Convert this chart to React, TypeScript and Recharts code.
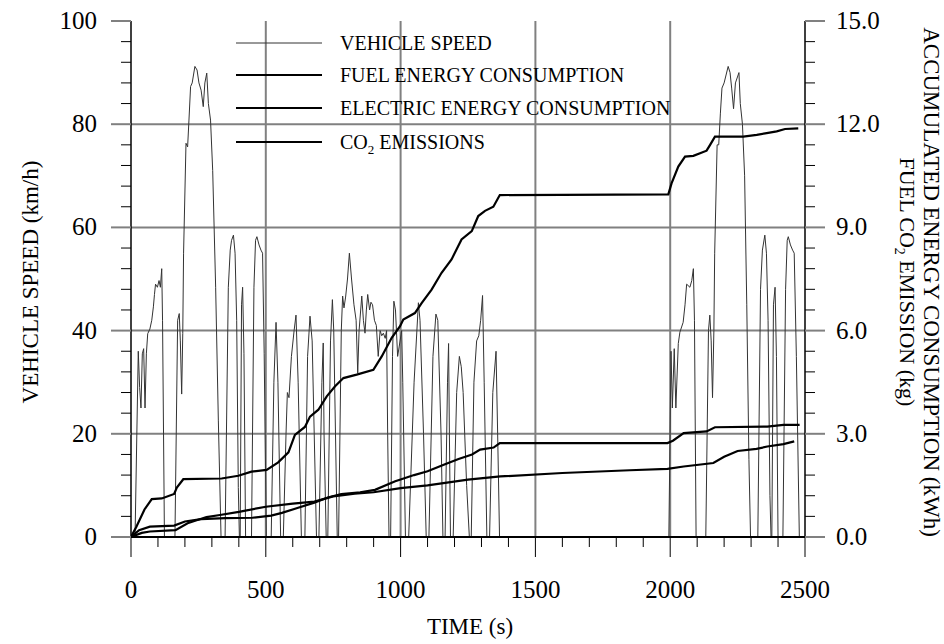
import { ComposedChart, Line, XAxis, YAxis, ReferenceLine } from "recharts";

const FONT = '"Liberation Serif", "DejaVu Serif", serif';

// axis ticks (minor + major)
const timeTicks = [
	0, 100, 200, 300, 400, 500, 600, 700, 800, 900, 1000, 1100, 1200, 1300,
	1400, 1500, 1600, 1700, 1800, 1900, 2000, 2100, 2200, 2300, 2400, 2500,
];
const speedTicks = [
	0, 4, 8, 12, 16, 20, 24, 28, 32, 36, 40, 44, 48, 52, 56, 60, 64, 68, 72,
	76, 80, 84, 88, 92, 96, 100,
];
const energyTicks = [
	0, 0.6, 1.2, 1.8, 2.4, 3, 3.6, 4.2, 4.8, 5.4, 6, 6.6, 7.2, 7.8, 8.4, 9,
	9.6, 10.2, 10.8, 11.4, 12, 12.6, 13.2, 13.8, 14.4, 15,
];
const gridSpeeds = [20, 40, 60, 80];
const gridTimes = [500, 1000, 1500, 2000];

// vehicle speed, km/h  [time s, speed]
const speedFirstLeg: [number, number][] = [
	[0, 0], [15, 0], [27, 36], [32, 29], [37, 25], [42, 35.5], [47, 36.5],
	[52, 25], [57, 35.5], [62, 39.4], [70, 40.3], [77, 42], [83, 44.6],
	[87, 47], [91, 49], [98, 48.4], [104, 49.7], [109, 48.4], [114, 52],
	[117, 42], [124, 0], [163, 0], [173, 42], [179, 43.3], [183, 38],
	[188, 27.7], [192, 39.4], [195, 55], [204, 76.3], [210, 75.6],
	[215, 80.8], [221, 87.3], [227, 88], [237, 91.2], [245, 90.5], [252, 88],
	[260, 86.6], [268, 83.4], [274, 88], [281, 89.9], [287, 84], [295, 80.8],
	[303, 71], [314, 48.4], [324, 22.5], [334, 0], [349, 0], [361, 48.4],
	[368, 55.6], [373, 57.5], [380, 58.5], [386, 55], [392, 42], [398, 9.6],
	[402, 0], [405, 0], [410, 45], [414, 48.4], [419, 35.5], [425, 0],
	[447, 0], [456, 48.4], [462, 57.5], [467, 58.2], [475, 56.6], [482, 55.6],
	[488, 55], [494, 35.5], [502, 0],
];
const speedMiddleLeg: [number, number][] = [
	[520, 0], [530, 30], [538, 41.6], [545, 30], [555, 0],
	[565, 0], [575, 20], [580, 28], [586, 27], [595, 35], [605, 40], [612, 43],
	[620, 30], [632, 0],
	[645, 0], [655, 35], [664, 42.8], [672, 38], [688, 0],
	[697, 0], [708, 30], [713, 37.6], [716, 20], [724, 0],
	[730, 0], [740, 38], [747, 46], [752, 40], [765, 0],
	[770, 0], [780, 40], [785, 46.7], [790, 44.4], [796, 46.5], [803, 50],
	[810, 55], [818, 50], [827, 45], [835, 42], [841, 31.8], [846, 40],
	[856, 46.7], [862, 42], [868, 39.5], [873, 44], [878, 47], [885, 44],
	[890, 45.5], [896, 45], [903, 42], [910, 41], [917, 35], [924, 40],
	[930, 39], [936, 39.5], [943, 38.5], [948, 40], [952, 20], [957, 0],
	[963, 0], [970, 35], [975, 45.7], [981, 44], [989, 35], [995, 37],
	[1004, 40], [1008, 30], [1018, 0],
	[1030, 0], [1050, 30], [1066, 45.4], [1072, 42], [1085, 20], [1095, 0],
	[1105, 0], [1120, 35], [1131, 43.2], [1138, 42], [1150, 20], [1157, 0],
	[1165, 0], [1174, 30], [1178, 37.5], [1181, 20], [1185, 0],
	[1195, 0], [1208, 28], [1218, 35], [1225, 33], [1232, 28], [1245, 10],
	[1255, 0],
	[1262, 0], [1272, 30], [1282, 38], [1290, 39], [1297, 42], [1304, 46.8],
	[1310, 30], [1320, 0],
	[1330, 0], [1342, 28], [1354, 36], [1360, 20], [1367, 0],
];
const speedLastLeg: [number, number][] = [
	[1995, 0], [2003, 36], [2008, 25], [2015, 36.5], [2021, 25], [2030, 37.5],
	[2036, 39.7], [2048, 41.6], [2055, 45], [2061, 49], [2073, 48.4],
	[2080, 49.7], [2086, 52], [2090, 42], [2096, 0], [2132, 0], [2142, 40],
	[2147, 43], [2152, 38], [2157, 27], [2162, 40], [2165, 55], [2174, 76],
	[2180, 76], [2186, 82], [2192, 87], [2200, 88], [2215, 91.2], [2222, 90],
	[2228, 87], [2235, 83], [2242, 88], [2255, 90], [2260, 84], [2268, 80],
	[2276, 70], [2284, 45], [2292, 15], [2298, 0],
	[2325, 0], [2335, 48], [2342, 55.6], [2351, 58.5], [2357, 55], [2363, 42],
	[2370, 8], [2374, 0],
	[2377, 0], [2383, 45], [2389, 48.4], [2394, 35], [2400, 0],
	[2418, 0], [2428, 48], [2434, 57.5], [2438, 58.2], [2446, 56.6],
	[2454, 55.6], [2460, 55], [2468, 35], [2479, 0],
];

// accumulated values, kWh / kg  [time s, value]
const fuelEnergy: [number, number][] = [
	[0, 0], [20, 0.3], [50, 0.8], [77, 1.1], [114, 1.12], [160, 1.25],
	[170, 1.44], [194, 1.68], [336, 1.7], [398, 1.78], [447, 1.9], [503, 1.95],
	[546, 2.17], [584, 2.46], [608, 2.97], [645, 3.2], [664, 3.5], [695, 3.7],
	[726, 4.09], [757, 4.38], [788, 4.62], [837, 4.72], [899, 4.86],
	[930, 5.25], [967, 5.79], [998, 6.13], [1010, 6.32], [1053, 6.51],
	[1078, 6.8], [1115, 7.19], [1152, 7.68], [1189, 8.07], [1226, 8.65],
	[1264, 8.89], [1288, 9.33], [1313, 9.48], [1344, 9.6], [1368, 9.94],
	[1993, 9.96], [2005, 10.28], [2030, 10.77], [2055, 11.06], [2086, 11.08],
	[2135, 11.23], [2148, 11.4], [2166, 11.64], [2271, 11.64], [2321, 11.69],
	[2358, 11.74], [2395, 11.79], [2426, 11.86], [2475, 11.88],
];
const electricEnergy: [number, number][] = [
	[0, 0], [30, 0.2], [70, 0.3], [160, 0.33], [200, 0.45], [260, 0.52],
	[350, 0.55], [450, 0.56], [520, 0.62], [560, 0.7], [620, 0.85], [680, 1.0],
	[730, 1.15], [780, 1.25], [850, 1.3], [905, 1.37], [980, 1.62], [1000, 1.67],
	[1050, 1.8], [1100, 1.91], [1160, 2.1], [1215, 2.27], [1265, 2.4],
	[1295, 2.54], [1345, 2.6], [1368, 2.73], [1990, 2.73], [2010, 2.8],
	[2050, 3.02], [2135, 3.07], [2166, 3.19], [2360, 3.21], [2420, 3.26],
	[2480, 3.26],
];
const co2Emissions: [number, number][] = [
	[0, 0], [40, 0.12], [70, 0.16], [165, 0.2], [210, 0.4], [280, 0.58],
	[330, 0.64], [400, 0.73], [500, 0.88], [600, 0.97], [680, 1.03],
	[750, 1.18], [830, 1.26], [900, 1.3], [1000, 1.42], [1100, 1.5],
	[1250, 1.67], [1370, 1.76], [1600, 1.86], [1850, 1.94], [1990, 1.98],
	[2050, 2.05], [2160, 2.15], [2200, 2.33], [2250, 2.5], [2320, 2.56],
	[2360, 2.63], [2420, 2.7], [2460, 2.78],
];

const toPoints = (pairs: [number, number][]) =>
	pairs.map(([t, v]) => ({ t, v }));

const speedData = toPoints([...speedFirstLeg, ...speedMiddleLeg, ...speedLastLeg]);

const textStyle = { fontFamily: FONT };

function TimeTick({ x, y, payload }: any) {
	const major = payload.value % 500 === 0;
	return (
		<g>
			<line x1={x} y1={y} x2={x} y2={y + (major ? 20 : 10)} stroke="#000" strokeWidth={1} />
			{major && (
				<text x={x} y={y + 61} textAnchor="middle" fontSize={25} style={textStyle} fill="#000">
					{payload.value}
				</text>
			)}
		</g>
	);
}

function SpeedTick({ x, y, payload }: any) {
	const major = payload.value % 20 === 0;
	return (
		<g>
			<line
				x1={x - (major ? 20 : 10)}
				y1={y}
				x2={x}
				y2={y}
				stroke={major ? "#808080" : "#000"}
				strokeWidth={major ? 2 : 1}
			/>
			{major && (
				<text x={x - 34} y={y + 8} textAnchor="end" fontSize={25} style={textStyle} fill="#000">
					{payload.value}
				</text>
			)}
		</g>
	);
}

function EnergyTick({ x, y, payload }: any) {
	const q = payload.value / 3;
	const major = Math.abs(q - Math.round(q)) < 1e-6;
	return (
		<g>
			<line
				x1={x}
				y1={y}
				x2={x + (major ? 20 : 10)}
				y2={y}
				stroke={major ? "#808080" : "#000"}
				strokeWidth={major ? 2 : 1}
			/>
			{major && (
				<text x={x + 31} y={y + 8} textAnchor="start" fontSize={25} style={textStyle} fill="#000">
					{payload.value.toFixed(1)}
				</text>
			)}
		</g>
	);
}

const legendItems = [
	{ label: "VEHICLE SPEED", width: 1 },
	{ label: "FUEL ENERGY CONSUMPTION", width: 2 },
	{ label: "ELECTRIC ENERGY CONSUMPTION", width: 2 },
	{ label: "CO2", width: 2 },
];
const legendY = [43, 75, 108, 142];

export default function App() {
	return (
		<div style={{ position: "absolute", left: 0, top: 0, width: 944, height: 644, background: "#fff" }}>
			<ComposedChart
				width={944}
				height={644}
				margin={{ top: 21, right: 79, bottom: 47, left: 71 }}>
				<XAxis
					type="number"
					dataKey="t"
					domain={[0, 2500]}
					ticks={timeTicks}
					interval={0}
					tickSize={0}
					tickMargin={0}
					tickLine={false}
					tick={<TimeTick />}
					height={60}
					axisLine={{ stroke: "#000", strokeWidth: 2 }}
					allowDataOverflow
				/>
				<YAxis
					yAxisId="speed"
					type="number"
					domain={[0, 100]}
					ticks={speedTicks}
					interval={0}
					tickSize={0}
					tickMargin={0}
					tickLine={false}
					tick={<SpeedTick />}
					width={60}
					axisLine={{ stroke: "#000", strokeWidth: 1.5 }}
				/>
				<YAxis
					yAxisId="energy"
					orientation="right"
					type="number"
					domain={[0, 15]}
					ticks={energyTicks}
					interval={0}
					tickSize={0}
					tickMargin={0}
					tickLine={false}
					tick={<EnergyTick />}
					width={60}
					axisLine={{ stroke: "#000", strokeWidth: 1.5 }}
				/>
				{gridSpeeds.map((s) => (
					<ReferenceLine key={"h" + s} yAxisId="speed" y={s} stroke="#808080" strokeWidth={2} />
				))}
				{gridTimes.map((t) => (
					<ReferenceLine key={"v" + t} yAxisId="speed" x={t} stroke="#808080" strokeWidth={2} />
				))}
				<Line
					yAxisId="speed"
					data={speedData}
					dataKey="v"
					type="linear"
					stroke="#333"
					strokeWidth={1}
					dot={false}
					isAnimationActive={false}
				/>
				<Line
					yAxisId="energy"
					data={toPoints(fuelEnergy)}
					dataKey="v"
					type="linear"
					stroke="#000"
					strokeWidth={2.2}
					dot={false}
					isAnimationActive={false}
				/>
				<Line
					yAxisId="energy"
					data={toPoints(electricEnergy)}
					dataKey="v"
					type="linear"
					stroke="#000"
					strokeWidth={2.2}
					dot={false}
					isAnimationActive={false}
				/>
				<Line
					yAxisId="energy"
					data={toPoints(co2Emissions)}
					dataKey="v"
					type="linear"
					stroke="#000"
					strokeWidth={2.2}
					dot={false}
					isAnimationActive={false}
				/>
			</ComposedChart>
			<svg
				width={944}
				height={644}
				style={{ position: "absolute", left: 0, top: 0, pointerEvents: "none", fontFamily: FONT }}>
				{legendItems.map((item, i) => (
					<g key={item.label}>
						<line x1={236} y1={legendY[i]} x2={322} y2={legendY[i]} stroke={item.width > 1 ? "#000" : "#333"} strokeWidth={item.width} />
						<text x={340} y={legendY[i] + 7} fontSize={20} fill="#000">
							{item.label === "CO2" ? (
								<>
									CO<tspan dy={5} fontSize={13}>2</tspan>
									<tspan dy={-5}> EMISSIONS</tspan>
								</>
							) : (
								item.label
							)}
						</text>
					</g>
				))}
				<text x={470} y={634} textAnchor="middle" fontSize={23} fill="#000">
					TIME (s)
				</text>
				<text
					transform="translate(38 282) rotate(-90)"
					textAnchor="middle"
					fontSize={23}
					fill="#000">
					VEHICLE SPEED (km/h)
				</text>
				<text
					transform="translate(924 282) rotate(90)"
					textAnchor="middle"
					fontSize={23}
					fill="#000">
					ACCUMULATED ENERGY CONSUMPTION (kWh)
				</text>
				<text
					transform="translate(900 282) rotate(90)"
					textAnchor="middle"
					fontSize={22}
					fill="#000">
					FUEL CO<tspan dy={5} fontSize={14}>2</tspan>
					<tspan dy={-5}> EMISSION (kg)</tspan>
				</text>
			</svg>
		</div>
	);
}
